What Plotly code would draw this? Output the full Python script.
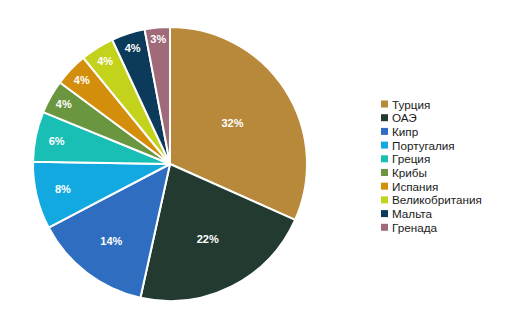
import plotly.graph_objects as go

countries = ["Турция", "ОАЭ", "Кипр", "Португалия", "Греция", "Крибы",
             "Испания", "Великобритания", "Мальта", "Гренада"]
values = [32, 22, 14, 8, 6, 4, 4, 4, 4, 3]
labels_pct = ["32%", "22%", "14%", "8%", "6%", "4%", "4%", "4%", "4%", "3%"]
colors = ["#B8893A", "#223A30", "#2E6DBF", "#12A9E0", "#19BFB5", "#6A963F",
          "#D38F0C", "#C3D21A", "#0B3A5A", "#A06A78"]

W, H = 511, 333

fig = go.Figure(go.Pie(
    labels=countries, values=values, text=labels_pct,
    textinfo="text", textposition="inside", insidetextorientation="horizontal",
    sort=False, direction="clockwise", rotation=0,
    marker=dict(colors=colors, line=dict(color="white", width=2)),
    textfont=dict(color="white", size=11, family="Liberation Sans", weight="bold"),
    domain=dict(x=[0.0646, 0.6008], y=[0.096, 0.919]),
    hoverinfo="label+percent", showlegend=False,
))

# Custom compact legend (Excel-style), built from the category/colour lists
leg_x0, leg_y0, leg_dy, sq = 381, 104, 13.7, 7
shapes, annotations = [], []
for i, (name, col) in enumerate(zip(countries, colors)):
    yc = leg_y0 + i * leg_dy
    shapes.append(dict(type="rect", xref="paper", yref="paper",
                       x0=leg_x0 / W, x1=(leg_x0 + sq) / W,
                       y0=1 - (yc + sq / 2) / H, y1=1 - (yc - sq / 2) / H,
                       fillcolor=col, line=dict(width=0)))
    annotations.append(dict(xref="paper", yref="paper", x=(leg_x0 + sq + 2) / W,
                            y=1 - yc / H, xanchor="left", yanchor="middle",
                            text=name, showarrow=False,
                            font=dict(family="Liberation Sans", size=11.7, color="#1a1a1a")))

fig.update_layout(
    width=W, height=H, margin=dict(l=0, r=0, t=0, b=0),
    paper_bgcolor="white", plot_bgcolor="white",
    font=dict(family="Liberation Sans", size=11, color="#222"),
    uniformtext=dict(minsize=11, mode="show"),
    shapes=shapes, annotations=annotations, showlegend=False,
)
fig.write_html("out.html")
